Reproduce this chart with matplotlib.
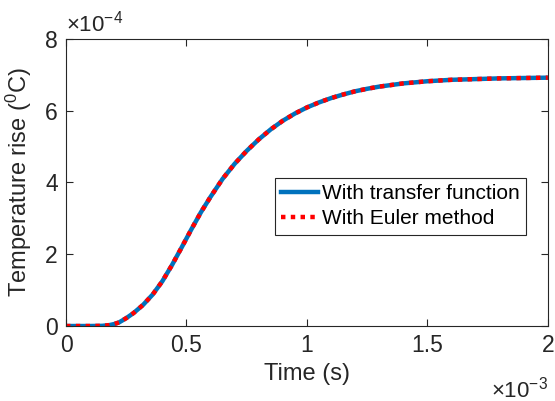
import numpy as np
import matplotlib
matplotlib.use("Agg")
import matplotlib.pyplot as plt
from matplotlib.ticker import FuncFormatter

plt.rcParams['font.family'] = ['Liberation Sans', 'DejaVu Sans']
plt.rcParams['mathtext.fontset'] = 'custom'
plt.rcParams['mathtext.rm'] = 'Liberation Sans'
plt.rcParams['mathtext.it'] = 'Liberation Sans:italic'

# time (s) and temperature rise (degC)
time_s = np.array([0.0, 0.05, 0.10, 0.15, 0.18, 0.20, 0.22, 0.25, 0.28, 0.32,
                   0.36, 0.40, 0.44, 0.48, 0.52, 0.56, 0.60, 0.65, 0.70, 0.75,
                   0.80, 0.85, 0.90, 0.95, 1.00, 1.05, 1.10, 1.15, 1.20, 1.25,
                   1.30, 1.40, 1.50, 1.60, 1.70, 1.80, 1.90, 2.00]) * 1e-3
temp_rise = np.array([0.0, 0.0, 0.0, 0.005, 0.025, 0.055, 0.10, 0.22, 0.36, 0.59,
                      0.88, 1.25, 1.70, 2.19, 2.69, 3.17, 3.60, 4.10, 4.52, 4.88,
                      5.20, 5.48, 5.72, 5.92, 6.09, 6.23, 6.35, 6.45, 6.54, 6.61,
                      6.67, 6.76, 6.82, 6.86, 6.88, 6.90, 6.91, 6.92]) * 1e-4

gray = (0.15, 0.15, 0.15)

fig = plt.figure(figsize=(5.55, 4.01), dpi=100)
ax = fig.add_axes([0.119, 0.187, 0.868, 0.716])

ax.plot(time_s, temp_rise, color='#0072BD', lw=3.2, label='With transfer function')
ax.plot(time_s, temp_rise, color='r', lw=3.2, ls=(0, (1, 1.2)), label='With Euler method')

ax.set_xlim(0, 2e-3)
ax.set_ylim(0, 8e-4)
ax.set_xticks([0, 0.5e-3, 1e-3, 1.5e-3, 2e-3])
ax.set_yticks([0, 2e-4, 4e-4, 6e-4, 8e-4])
ax.xaxis.set_major_formatter(FuncFormatter(lambda v, p: f"{v * 1e3:g}"))
ax.yaxis.set_major_formatter(FuncFormatter(lambda v, p: f"{v * 1e4:g}"))

ax.tick_params(direction='in', length=5, width=0.8, colors=gray,
               labelsize=16.5, top=True, right=True, pad=6)
for s in ax.spines.values():
    s.set_color(gray)
    s.set_linewidth(0.8)

ax.set_xlabel('Time (s)', fontsize=17, color=gray, labelpad=4)
ax.set_ylabel('Temperature rise ($^0$C)', fontsize=17, color=gray, labelpad=8)

# exponent labels like MATLAB
ax.text(0.0, 1.01, r'$\times10^{-4}$', transform=ax.transAxes, fontsize=16,
        color=gray, ha='left', va='bottom')
ax.text(1.0, -0.175, r'$\times10^{-3}$', transform=ax.transAxes, fontsize=16,
        color=gray, ha='right', va='top')

leg = ax.legend(loc='upper left', bbox_to_anchor=(0.434, 0.516), fontsize=15,
                fancybox=False, edgecolor=gray, framealpha=1, handlelength=1.75,
                handletextpad=0.2, borderpad=0.3, labelspacing=0.3,
                borderaxespad=0)
leg.get_frame().set_linewidth(0.8)

fig.savefig('out.png', dpi=100)
